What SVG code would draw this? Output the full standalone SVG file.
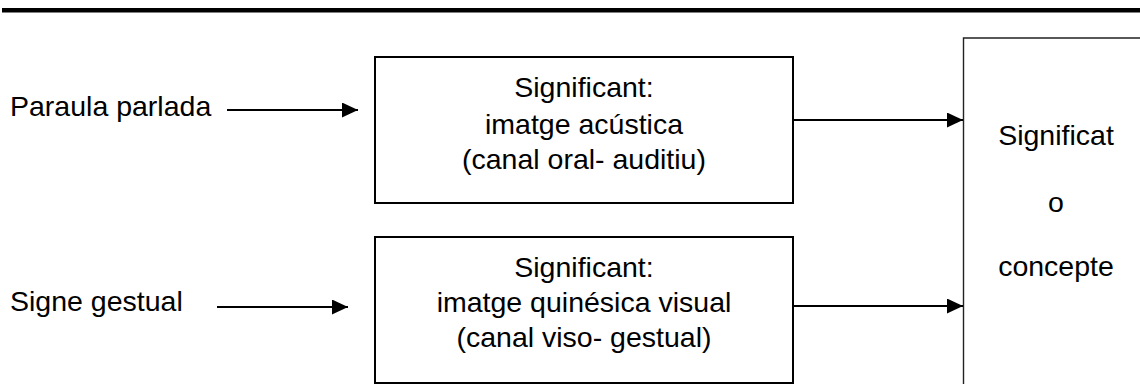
<svg xmlns="http://www.w3.org/2000/svg" width="1140" height="385" viewBox="0 0 1140 385">
<style>
text{font-family:"Liberation Sans",Arial,sans-serif;font-size:28.5px;fill:#000}
.box{fill:#fff;stroke:#000;stroke-width:2}
.big{fill:none;stroke:#222;stroke-width:1.4}
.conn{stroke:#000;stroke-width:2;fill:none}
.c{text-anchor:middle}
</style>
<defs>
<marker id="ah" markerUnits="userSpaceOnUse" markerWidth="16" markerHeight="15" refX="16" refY="7.5" orient="auto">
<path d="M0,0 L16,7.5 L0,15 Z" fill="#000"/>
</marker>
</defs>
<rect x="2" y="8" width="1138" height="4.5" fill="#000"/>
<g id="paraula">
<text x="10" y="116">Paraula parlada</text>
</g>
<g id="signe">
<text x="10" y="311">Signe gestual</text>
</g>
<g id="box1">
<rect class="box" x="375" y="57" width="418" height="146"/>
<text class="c" x="584" y="97">Significant:</text>
<text class="c" x="584" y="134">imatge acústica</text>
<text class="c" x="584" y="169">(canal oral- auditiu)</text>
</g>
<g id="box2">
<rect class="box" x="375" y="237" width="418" height="146"/>
<text class="c" x="584" y="277">Significant:</text>
<text class="c" x="584" y="312">imatge quinésica visual</text>
<text class="c" x="584" y="347">(canal viso- gestual)</text>
</g>
<g id="significat">
<path class="big" d="M1141,38 H963.5 V384"/>
<text class="c" x="1056" y="145">Significat</text>
<text class="c" x="1056" y="212">o</text>
<text class="c" x="1056" y="276">concepte</text>
</g>
<g id="connectors">
<line class="conn" x1="227" y1="110" x2="358" y2="110" marker-end="url(#ah)"/>
<line class="conn" x1="217" y1="307" x2="348" y2="307" marker-end="url(#ah)"/>
<line class="conn" x1="793" y1="120" x2="963" y2="120" marker-end="url(#ah)"/>
<line class="conn" x1="793" y1="306" x2="963" y2="306" marker-end="url(#ah)"/>
</g>
</svg>
